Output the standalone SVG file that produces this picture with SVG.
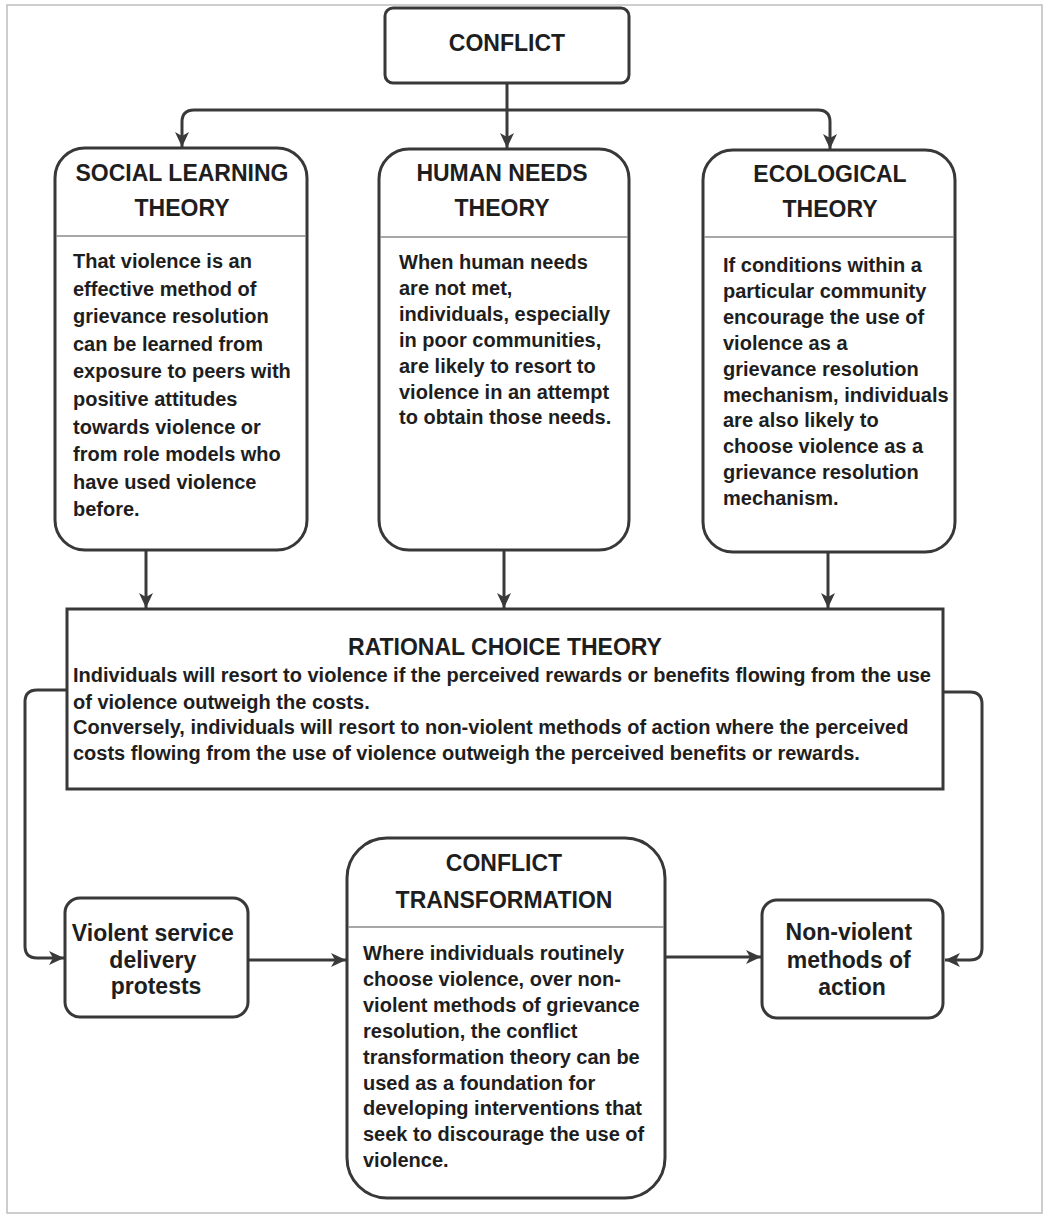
<svg xmlns="http://www.w3.org/2000/svg" width="1044" height="1218" viewBox="0 0 1044 1218">
<style>
.box{fill:#fff;stroke:#383838;stroke-width:3}
.div{stroke:#8a8a8a;stroke-width:1.5}
.t{font-family:"Liberation Sans",Arial,sans-serif;font-weight:bold;fill:#1e1e1e}
.h{font-size:23px;text-anchor:middle}
.b{font-size:20px}
.c{font-size:23px;text-anchor:middle}
.ln{fill:none;stroke:#3a3a3a;stroke-width:3}
</style>
<defs>
<marker id="arr" markerUnits="userSpaceOnUse" markerWidth="16" markerHeight="14" refX="15" refY="7" orient="auto">
<path d="M0,0 L15,7 L0,14 L4,7 Z" fill="#3a3a3a"/>
</marker>
</defs>
<rect width="1044" height="1218" fill="#fff"/>
<rect x="7" y="5" width="1035" height="1208" fill="none" stroke="#bdbdbd" stroke-width="1.5"/>

<g id="connectors">
<path class="ln" d="M507,83 V148" marker-end="url(#arr)"/>
<path class="ln" d="M507,110 H194 Q182,110 182,122 V147" marker-end="url(#arr)"/>
<path class="ln" d="M507,110 H818 Q830,110 830,122 V149" marker-end="url(#arr)"/>
<path class="ln" d="M146,550 V608" marker-end="url(#arr)"/>
<path class="ln" d="M504,550 V608" marker-end="url(#arr)"/>
<path class="ln" d="M828,552 V608" marker-end="url(#arr)"/>
<path class="ln" d="M67,690 H37 Q25,690 25,702 V946 Q25,958 37,958 H64" marker-end="url(#arr)"/>
<path class="ln" d="M943,692 H970 Q982,692 982,704 V948 Q982,960 970,960 H945" marker-end="url(#arr)"/>
<path class="ln" d="M248,960 H346" marker-end="url(#arr)"/>
<path class="ln" d="M665,957 H761" marker-end="url(#arr)"/>
</g>

<g id="conflict">
<rect class="box" x="385" y="8" width="244" height="75" rx="8"/>
<text class="t h" x="507" y="51">CONFLICT</text>
</g>

<g id="social-learning">
<rect class="box" x="55" y="148" width="252" height="402" rx="30"/>
<line class="div" x1="56" y1="236" x2="306" y2="236"/>
<text class="t h" x="182" y="181">SOCIAL LEARNING</text>
<text class="t h" x="182" y="216">THEORY</text>
<text class="t b">
<tspan x="73" y="268">That violence is an</tspan>
<tspan x="73" y="295.6">effective method of</tspan>
<tspan x="73" y="323.2">grievance resolution</tspan>
<tspan x="73" y="350.8">can be learned from</tspan>
<tspan x="73" y="378.4">exposure to peers with</tspan>
<tspan x="73" y="406">positive attitudes</tspan>
<tspan x="73" y="433.6">towards violence or</tspan>
<tspan x="73" y="461.2">from role models who</tspan>
<tspan x="73" y="488.8">have used violence</tspan>
<tspan x="73" y="516.4">before.</tspan>
</text>
</g>

<g id="human-needs">
<rect class="box" x="379" y="149" width="250" height="401" rx="30"/>
<line class="div" x1="380" y1="237" x2="628" y2="237"/>
<text class="t h" x="502" y="181">HUMAN NEEDS</text>
<text class="t h" x="502" y="216">THEORY</text>
<text class="t b">
<tspan x="399" y="269">When human needs</tspan>
<tspan x="399" y="294.9">are not met,</tspan>
<tspan x="399" y="320.8">individuals, especially</tspan>
<tspan x="399" y="346.7">in poor communities,</tspan>
<tspan x="399" y="372.6">are likely to resort to</tspan>
<tspan x="399" y="398.5">violence in an attempt</tspan>
<tspan x="399" y="424.4">to obtain those needs.</tspan>
</text>
</g>

<g id="ecological">
<rect class="box" x="703" y="150" width="252" height="402" rx="30"/>
<line class="div" x1="704" y1="237" x2="954" y2="237"/>
<text class="t h" x="830" y="182">ECOLOGICAL</text>
<text class="t h" x="830" y="217">THEORY</text>
<text class="t b">
<tspan x="723" y="272">If conditions within a</tspan>
<tspan x="723" y="297.9">particular community</tspan>
<tspan x="723" y="323.8">encourage the use of</tspan>
<tspan x="723" y="349.7">violence as a</tspan>
<tspan x="723" y="375.6">grievance resolution</tspan>
<tspan x="723" y="401.5">mechanism, individuals</tspan>
<tspan x="723" y="427.4">are also likely to</tspan>
<tspan x="723" y="453.3">choose violence as a</tspan>
<tspan x="723" y="479.2">grievance resolution</tspan>
<tspan x="723" y="505.1">mechanism.</tspan>
</text>
</g>

<g id="rational-choice">
<rect class="box" x="67" y="609" width="876" height="180"/>
<text class="t h" x="505" y="655">RATIONAL CHOICE THEORY</text>
<text class="t b">
<tspan x="73" y="682">Individuals will resort to violence if the perceived rewards or benefits flowing from the use</tspan>
<tspan x="73" y="709">of violence outweigh the costs.</tspan>
<tspan x="73" y="734">Conversely, individuals will resort to non-violent methods of action where the perceived</tspan>
<tspan x="73" y="760">costs flowing from the use of violence outweigh the perceived benefits or rewards.</tspan>
</text>
</g>

<g id="violent-protests">
<rect class="box" x="65" y="898" width="183" height="119" rx="15"/>
<text class="t c">
<tspan x="156" y="941">Violent service</tspan>
<tspan x="156" y="968">delivery</tspan>
<tspan x="156" y="994">protests</tspan>
</text>
</g>

<g id="conflict-transformation">
<rect class="box" x="347" y="838" width="318" height="360" rx="40"/>
<line class="div" x1="348" y1="927" x2="664" y2="927"/>
<text class="t h" x="504" y="871">CONFLICT</text>
<text class="t h" x="504" y="908">TRANSFORMATION</text>
<text class="t b">
<tspan x="363" y="960">Where individuals routinely</tspan>
<tspan x="363" y="985.9">choose violence, over non-</tspan>
<tspan x="363" y="1011.8">violent methods of grievance</tspan>
<tspan x="363" y="1037.7">resolution, the conflict</tspan>
<tspan x="363" y="1063.6">transformation theory can be</tspan>
<tspan x="363" y="1089.5">used as a foundation for</tspan>
<tspan x="363" y="1115.4">developing interventions that</tspan>
<tspan x="363" y="1141.3">seek to discourage the use of</tspan>
<tspan x="363" y="1167.2">violence.</tspan>
</text>
</g>

<g id="non-violent">
<rect class="box" x="762" y="900" width="181" height="118" rx="15"/>
<text class="t c">
<tspan x="852" y="940">Non-violent</tspan>
<tspan x="852" y="968">methods of</tspan>
<tspan x="852" y="995">action</tspan>
</text>
</g>
</svg>
